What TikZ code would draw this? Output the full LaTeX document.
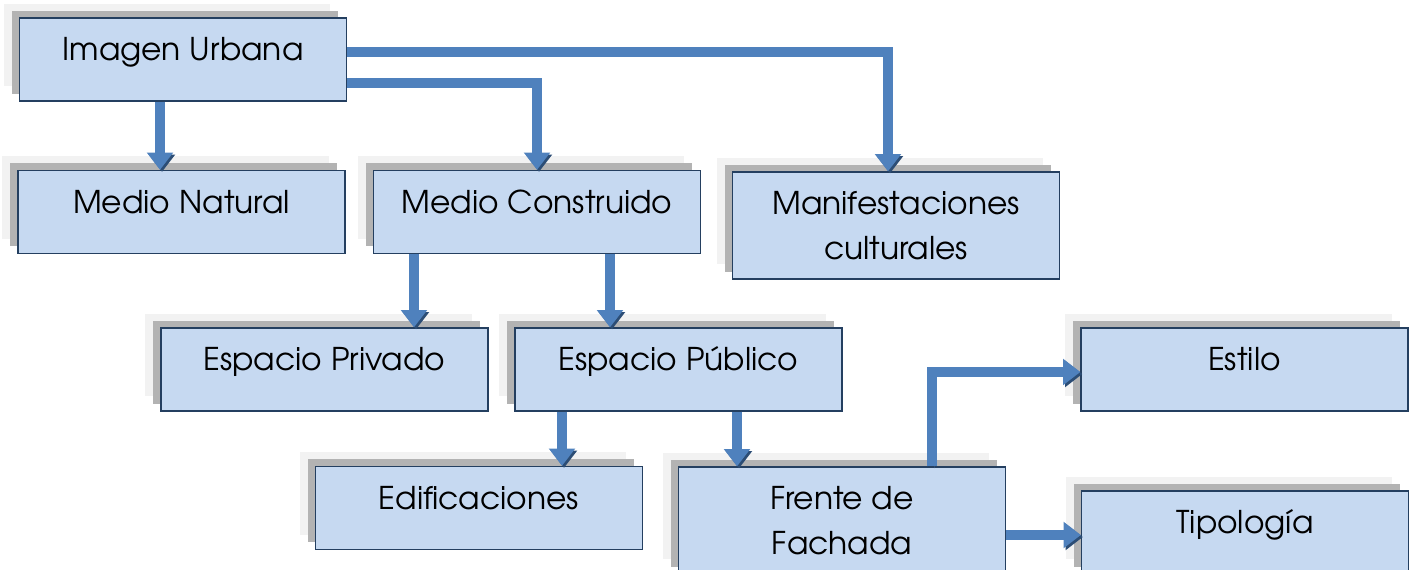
\documentclass[tikz,border=0pt]{standalone}
\usepackage{fontspec}
\setmainfont{TeX Gyre Adventor}
\usetikzlibrary{arrows.meta,shadows}

\definecolor{boxfill}{HTML}{C6D9F1}
\definecolor{boxline}{HTML}{243F60}
\definecolor{shadedark}{HTML}{B3B3B3}
\definecolor{shadelight}{HTML}{F2F2F2}
\definecolor{arrowblue}{HTML}{4F81BD}
\definecolor{arrowdark}{HTML}{2C4D75}

\tikzset{
  box/.style={draw=boxline, fill=boxfill, line width=1.2pt,
    minimum width=245pt, minimum height=62pt, inner sep=0pt,
    font=\fontsize{23.5}{34}\selectfont, align=center,
    general shadow={fill=shadelight, shadow xshift=-12pt, shadow yshift=11pt},
    general shadow={fill=shadedark, shadow xshift=-6pt, shadow yshift=5.5pt}},
  oneline/.style={text height=16pt, text depth=14pt},
  tall/.style={minimum height=80pt},
  conn/.style={draw=arrowblue, line width=7pt, line join=miter,
    -{Triangle[width=19pt, length=13pt]},
    preaction={draw=arrowdark, transform canvas={shift={(1.5pt,-1.5pt)}}}}
}

\begin{document}
\begin{tikzpicture}[x=0.75pt, y=-0.75pt]
  \useasboundingbox (0,0) rectangle (1416,569);

  % Boxes, first row
  \node[box, oneline] (iu) at (183,59.5) {Imagen Urbana};

  % Second row
  \node[box, oneline] (mn) at (181.5,212) {Medio Natural};
  \node[box, oneline] (mc) at (537,212) {Medio Construido};
  \node[box, tall] (mf) at (896,225.5) {Manifestaciones\\culturales};

  % Third row
  \node[box, oneline] (ep) at (324.5,369.5) {Espacio Privado};
  \node[box, oneline] (epu) at (678.5,369.5) {Espacio Público};
  \node[box, oneline] (es) at (1244.5,369.5) {Estilo};

  % Fourth row
  \node[box, oneline] (ed) at (479,508) {Edificaciones};
  \node[box, tall] (ff) at (842,520.5) {Frente de\\Fachada};
  \node[box, oneline] (ti) at (1245,532.5) {Tipología};

  % Arrows
  \draw[conn] (iu.south -| 160,0) -- (mn.north -| 160,0);
  \draw[conn] (iu.east |- 0,83) -| (mc.north);
  \draw[conn] (iu.east |- 0,52) -| (mf.north -| 888,0);
  \draw[conn] (mc.south -| 414,0) -- (ep.north -| 414,0);
  \draw[conn] (mc.south -| 610,0) -- (epu.north -| 610,0);
  \draw[conn] (epu.south -| 562,0) -- (ed.north -| 562,0);
  \draw[conn] (epu.south -| 737,0) -- (ff.north -| 737,0);
  \draw[conn] (ff.north -| 932,0) |- (es.west |- 0,372);
  \draw[conn] (ff.east |- 0,535) -- (ti.west |- 0,535);
\end{tikzpicture}
\end{document}
